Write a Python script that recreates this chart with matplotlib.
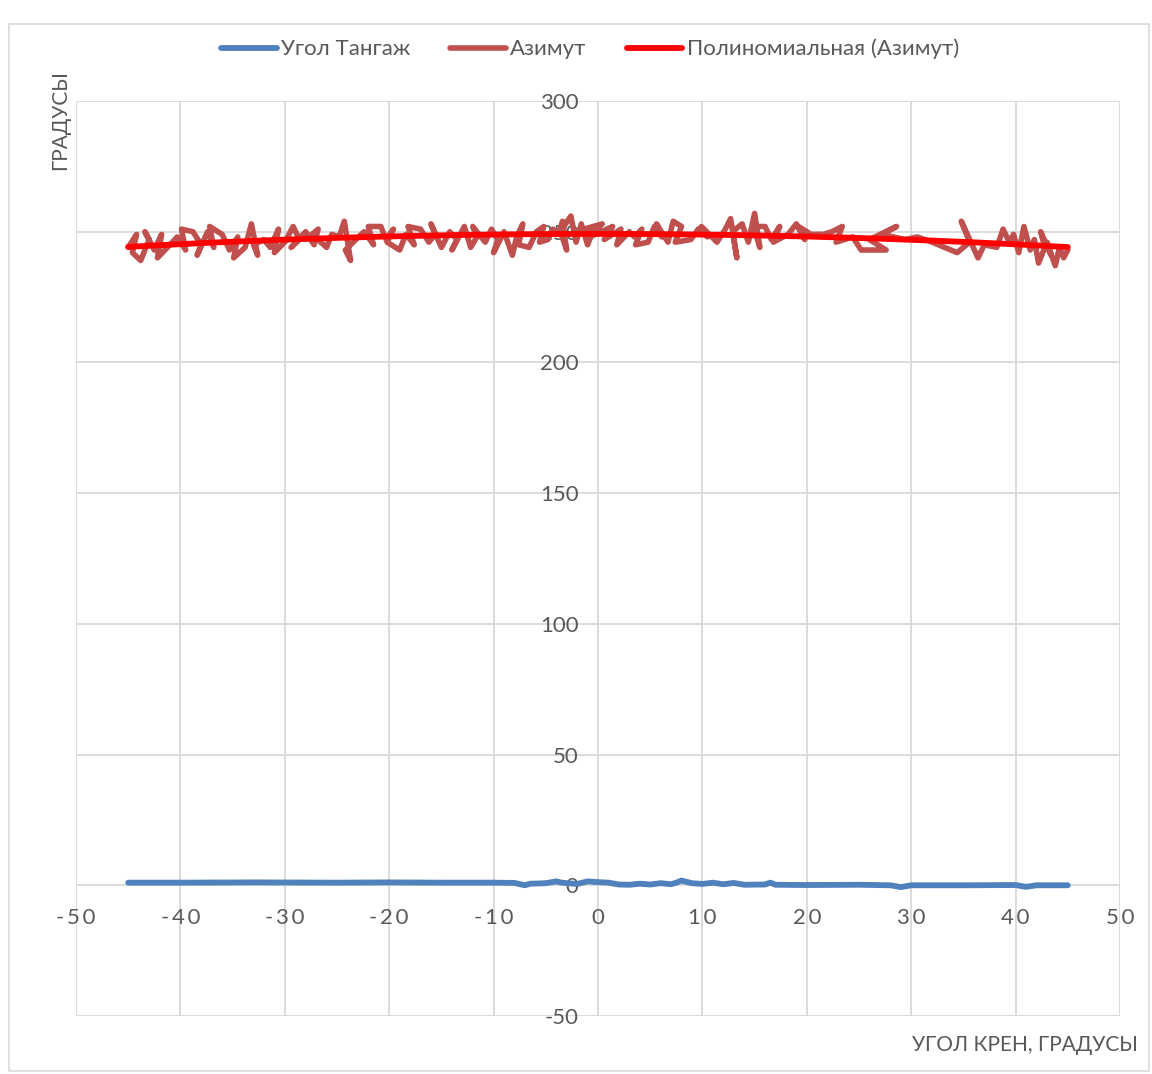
import matplotlib.pyplot as plt
import numpy as np
from matplotlib.patches import Rectangle

plt.rcParams['font.family'] = ['Lato', 'DejaVu Sans']
plt.rcParams['axes.unicode_minus'] = False

# Угол тангажа
pitch_x = [-45, -40, -33, -25, -20, -15, -10, -8, -7, -6.5, -5, -4, -3.5, -2, -1, 0, 1, 2, 3,
           4, 5, 6, 7, 7.5, 8, 9, 10, 11, 12, 13, 14, 16, 16.5, 17, 20, 25, 28, 29, 30, 35,
           40, 41, 42, 45]
pitch_y = [1.0, 1.0, 1.1, 1.0, 1.1, 1.0, 1.0, 0.9, 0.0, 0.6, 0.8, 1.5, 1.0, 0.5, 1.5, 1.2,
           1.0, 0.3, 0.2, 0.6, 0.3, 0.8, 0.4, 1.0, 1.8, 0.8, 0.5, 1.0, 0.4, 0.9, 0.2, 0.3,
           1.0, 0.2, 0.1, 0.2, 0.0, -0.7, 0.0, 0.0, 0.1, -0.6, 0.0, 0.0]

# Азимут (по 10 точек в строке)
azim_x = [-45, -44.2, -44.6, -43.8, -43, -43.4, -42.5, -41.8, -42.2, -41,
          -40.3, -39.5, -39.9, -38.8, -38, -38.4, -37.4, -36.8, -37.2, -36,
          -35.3, -34.5, -34.9, -33.8, -33.2, -32.6, -33.0, -32, -31.4, -30.6,
          -31.0, -30, -29.2, -28.6, -29.4, -28, -27.2, -26.8, -27.4, -26,
          -25.5, -24.8, -24.3, -23.7, -24.2, -23.2, -22.4, -21.5, -22.0, -20.8,
          -20.3, -19.6, -20.2, -19, -18.4, -17.6, -18.2, -17, -16.2, -15.6,
          -16.0, -15, -14.2, -13.5, -14.0, -12.8, -12.2, -11.6, -12.0, -10.8,
          -10.2, -9.6, -10.0, -9, -8.2, -7.8, -7.2, -7.6, -6.6, -5.9,
          -5.2, -5.6, -4.8, -4.3, -3.8, -3.4, -3, -3.6, -2.6, -2.1,
          -1.6, -1.0, -0.4, -2.2, 0.4, -0.8, 1.4, 0.6, 2.2, 1.8,
          3.0, 3.5, 4.2, 3.6, 4.8, 5.4, 6.1, 5.6, 6.7, 7.2,
          8.0, 7.4, 8.9, 9.6, 10.5, 9.9, 11.4, 12.2, 12.7, 13.3,
          12.9, 13.8, 14.4, 15.0, 15.5, 14.9, 16.0, 16.6, 17.4, 16.8,
          18.2, 19.0, 19.8, 19.2, 20.4, 21.6, 22.4, 23.4, 22.8, 24.4,
          25.2, 27.6, 26.0, 28.6, 27.2, 29.4, 30.6, 32.0, 33.2, 34.4,
          35.6, 34.8, 36.4, 37.0, 38.2, 38.8, 39.4, 39.8, 40.3, 40.8,
          41.4, 41.8, 42.2, 42.8, 42.4, 43.4, 43.0, 43.8, 44.2, 44.6,
          45.0]
azim_y = [244, 249, 242, 239, 247, 250, 243, 249, 240, 245,
          248, 243, 251, 250, 245, 241, 250, 244, 252, 249,
          243, 248, 240, 244, 253, 241, 245, 247, 244, 251,
          242, 246, 252, 247, 244, 250, 245, 251, 249, 244,
          249, 248, 254, 239, 243, 247, 250, 245, 252, 252,
          247, 251, 246, 243, 249, 245, 252, 251, 246, 249,
          253, 244, 250, 247, 243, 252, 244, 248, 252, 246,
          251, 247, 242, 250, 241, 248, 253, 245, 244, 250,
          252, 246, 247, 251, 249, 254, 243, 250, 256, 246,
          253, 245, 251, 250, 253, 248, 252, 247, 251, 245,
          250, 248, 251, 245, 246, 252, 248, 253, 246, 254,
          252, 246, 247, 251, 248, 252, 246, 251, 255, 240,
          250, 253, 246, 257, 244, 252, 252, 247, 252, 246,
          249, 253, 247, 252, 249, 249, 250, 252, 246, 248,
          243, 243, 247, 252, 249, 247, 248, 246, 244, 242,
          246, 254, 240, 245, 244, 251, 246, 249, 242, 252,
          243, 247, 238, 244, 250, 241, 246, 237, 244, 240,
          243]

x_ticks = [-50, -40, -30, -20, -10, 0, 10, 20, 30, 40, 50]
y_ticks = [-50, 0, 50, 100, 150, 200, 250, 300]

text_color = '#595959'
grid_color = '#D9D9D9'

fig = plt.figure(figsize=(11.52, 10.74), dpi=100)
fig.patches.append(Rectangle((9 / 1152, 3 / 1074), 1140 / 1152, 1047 / 1074,
                             transform=fig.transFigure, fill=False,
                             edgecolor=grid_color, lw=1.2))
ax = fig.add_axes([76 / 1152, 58 / 1074, 1044 / 1152, 915 / 1074])

# квадратичный тренд азимута
coef = np.polyfit(azim_x, azim_y, 2)
trend_x = np.linspace(min(azim_x), max(azim_x), 200)
trend_y = np.polyval(coef, trend_x)

ax.plot(pitch_x, pitch_y, color='#4F81BD', lw=4.2, solid_capstyle='round',
        solid_joinstyle='round', label='Угол Тангаж', zorder=3)
ax.plot(azim_x, azim_y, color='#C0504D', lw=4.0, solid_capstyle='round',
        solid_joinstyle='round', label='Азимут', zorder=3)
ax.plot(trend_x, trend_y, color='#FF0000', lw=4.2, solid_capstyle='round',
        label='Полиномиальная (Азимут)', zorder=4)

ax.set_xlim(-50, 50)
ax.set_ylim(-50, 300)
ax.set_xticks(x_ticks)
ax.set_yticks(y_ticks)
ax.set_xticklabels(['\u2009'.join(str(v)) for v in x_ticks])
ax.grid(True, color=grid_color, lw=1.3)
ax.set_axisbelow(True)

for name in ['top', 'right']:
    ax.spines[name].set_visible(False)
ax.spines['left'].set_position(('data', 0))
ax.spines['bottom'].set_position(('data', 0))
ax.spines['left'].set_visible(False)
ax.spines['bottom'].set_visible(False)
ax.tick_params(axis='both', length=0, labelsize=16, labelcolor=text_color)
ax.tick_params(axis='x', pad=16)
ax.tick_params(axis='y', pad=14)

fig.text(60 / 1152, 1 - 70 / 1074, 'ГРАДУСЫ', rotation=90, ha='center', va='top',
         fontsize=15, color=text_color)
fig.text(1138 / 1152, 1 - 1045 / 1074, 'УГОЛ КРЕН, ГРАДУСЫ', ha='right', va='center',
         fontsize=15, color=text_color)

fig.legend(loc='center', bbox_to_anchor=(590 / 1152, 1 - 49 / 1074), ncol=3,
           frameon=False, fontsize=16, handlelength=2.5, handletextpad=0.2,
           columnspacing=1.8, labelcolor=text_color)

fig.savefig('out.png', dpi=100)
